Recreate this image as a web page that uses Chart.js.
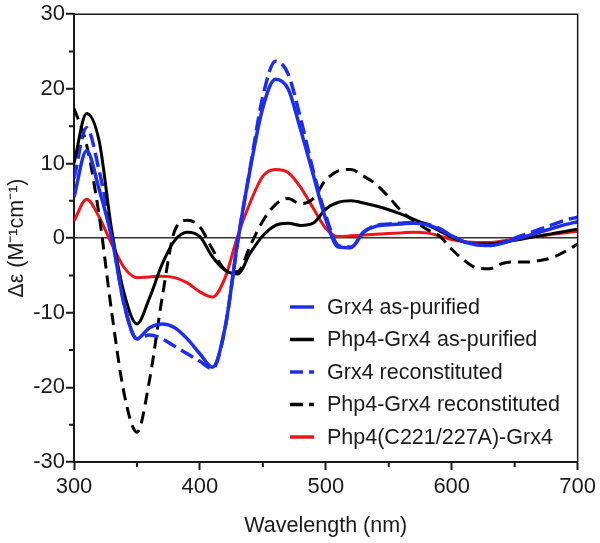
<!DOCTYPE html>
<html lang="en">
<head>
    <meta charset="UTF-8">
    <title>CD spectra</title>
    <style>
        * {
            margin: 0;
            padding: 0;
            box-sizing: border-box;
        }

        body {
            background-color: #fff;
            width: 600px;
            height: 543px;
            overflow: hidden;
        }

        #chart-box {
            width: 600px;
            height: 543px;
        }
    </style>
    <script src="https://cdn.jsdelivr.net/npm/chart.js"></script>
</head>
<body>
    <div id="chart-box">
        <canvas id="cdChart" width="600" height="543"></canvas>
    </div>

    <script>
        // Wavelength grid (nm)
        const wavelengths = [300, 310, 320, 330, 340, 350, 360, 370, 380, 390,
                             400, 410, 420, 430, 440, 450, 460, 470, 480, 490,
                             500, 510, 520, 530, 540, 550, 560, 570, 580, 590,
                             600, 610, 620, 630, 640, 650, 660, 670, 680, 690, 700];

        // Δε values
        const grx4AsPurified = [5.5, 11.7, 6.5, 0, -9, -13.5, -12, -11.5, -12, -13.5,
                                -15.5, -17.3, -12, -0.5, 9.3, 17.5, 21.3, 20, 14.5, 8.5,
                                2.5, -1.2, -1.3, 0.8, 1.6, 1.8, 1.9, 2, 1.8, 1.2,
                                0.3, -0.5, -0.9, -1, -0.7, -0.2, 0.3, 0.8, 1.3, 1.8, 2.2];

        const php4AsPurified = [10, 16.7, 13, 1, -7.5, -11.5, -8, -3.5, -0.3, 0.8,
                                0.2, -2.5, -4.3, -4.8, -2, 0.3, 1.7, 2, 1.7, 2,
                                3.9, 4.8, 5, 4.7, 4.3, 3.8, 3.2, 2.5, 1.8, 1,
                                0.1, -0.5, -0.8, -0.8, -0.6, -0.3, 0, 0.3, 0.6, 0.9, 1.2];

        const grx4Reconstituted = [8, 14.8, 9, 0.5, -9, -13.5, -13, -13.5, -14.5, -15.5,
                                   -16.5, -17.5, -12, -0.5, 9.5, 19, 23.7, 22, 16, 9,
                                   3, -1, -1.2, 0.8, 1.7, 1.9, 2, 2.1, 1.9, 1.3,
                                   0.3, -0.5, -0.9, -1, -0.6, 0, 0.6, 1.2, 1.8, 2.4, 2.8];

        const php4Reconstituted = [17.4, 12.5, 3, -10, -21, -26, -19, -8, 1, 2.4,
                                   1.5, -1.5, -4.2, -4.5, -1, 2.3, 4.5, 5.3, 4.6, 5.3,
                                   7.8, 9, 9.2, 8.3, 7.2, 5.5, 3.6, 2.3, 1.2, 0.3,
                                   -1.5, -3, -4, -4.1, -3.4, -3.2, -3.2, -3, -2.6, -1.8, -0.8];

        const php4Mutant = [2.3, 5.2, 2.8, -0.8, -4, -5.3, -5.2, -5.1, -5.3, -6,
                            -7.2, -7.9, -5.3, 0.3, 4.8, 8.3, 9.2, 8.8, 6.8, 4,
                            1.3, 0.2, 0.3, 0.4, 0.5, 0.6, 0.7, 0.8, 0.7, 0.3,
                            -0.2, -0.5, -0.6, -0.6, -0.4, -0.1, 0.1, 0.3, 0.5, 0.7, 0.9];

        const seriesLabels = ['Grx4 as-purified', 'Php4-Grx4 as-purified', 'Grx4 reconstituted',
                              'Php4-Grx4 reconstituted', 'Php4(C221/227A)-Grx4'];

        const xTicks = [300, 400, 500, 600, 700];
        const yTicks = [-30, -20, -10, 0, 10, 20, 30];

        const FONT = '"Liberation Sans", Arial, sans-serif';
        const INK = '#1a1a1a';

        function toPoints(values) {
            return values.map((v, i) => ({ x: wavelengths[i], y: v }));
        }

        // Caixa, ticks menores e legenda dentro da área do gráfico
        const framePlugin = {
            id: 'frame',
            afterDraw(chart) {
                const ctx = chart.ctx;
                const area = chart.chartArea;
                const xs = chart.scales.x;
                const ys = chart.scales.y;
                ctx.save();

                ctx.strokeStyle = INK;
                ctx.lineWidth = 1.5;
                ctx.beginPath();
                ctx.moveTo(area.left, area.top);
                ctx.lineTo(area.right, area.top);
                ctx.lineTo(area.right, area.bottom);
                ctx.stroke();

                // minor ticks
                ctx.lineWidth = 2;
                ctx.beginPath();
                for (let v = 350; v < 700; v += 100) {
                    const px = xs.getPixelForValue(v);
                    ctx.moveTo(px, area.bottom);
                    ctx.lineTo(px, area.bottom + 5);
                }
                for (let v = -25; v < 30; v += 10) {
                    const py = ys.getPixelForValue(v);
                    ctx.moveTo(area.left, py);
                    ctx.lineTo(area.left - 5, py);
                }
                ctx.stroke();

                // legend
                const lx = 290, tx = 327;
                let ly = 307;
                ctx.font = '21.5px ' + FONT;
                ctx.textBaseline = 'middle';
                ctx.fillStyle = INK;
                chart.data.datasets.forEach(ds => {
                    ctx.strokeStyle = ds.borderColor;
                    ctx.lineWidth = 3.5;
                    ctx.setLineDash(ds.borderDash && ds.borderDash.length ? [13, 6] : []);
                    ctx.beginPath();
                    ctx.moveTo(lx, ly);
                    ctx.lineTo(lx + 24, ly);
                    ctx.stroke();
                    ctx.setLineDash([]);
                    ctx.fillText(ds.label, tx, ly + 1);
                    ly += 32.5;
                });

                ctx.restore();
            }
        };

        const ctx = document.getElementById('cdChart').getContext('2d');
        new Chart(ctx, {
            type: 'line',
            data: {
                datasets: [
                    {
                        label: seriesLabels[0],
                        data: toPoints(grx4AsPurified),
                        borderColor: '#1f2fe8',
                        borderWidth: 3.5,
                        borderDash: []
                    },
                    {
                        label: seriesLabels[1],
                        data: toPoints(php4AsPurified),
                        borderColor: '#000000',
                        borderWidth: 3,
                        borderDash: []
                    },
                    {
                        label: seriesLabels[2],
                        data: toPoints(grx4Reconstituted),
                        borderColor: '#1f2fe8',
                        borderWidth: 3.5,
                        borderDash: [14, 6]
                    },
                    {
                        label: seriesLabels[3],
                        data: toPoints(php4Reconstituted),
                        borderColor: '#000000',
                        borderWidth: 3,
                        borderDash: [12, 7]
                    },
                    {
                        label: seriesLabels[4],
                        data: toPoints(php4Mutant),
                        borderColor: '#ee1418',
                        borderWidth: 3,
                        borderDash: []
                    }
                ]
            },
            options: {
                responsive: false,
                animation: false,
                devicePixelRatio: 1,
                layout: {
                    padding: { top: 11, right: 22, left: 0, bottom: 0 }
                },
                elements: {
                    point: { radius: 0 },
                    line: { cubicInterpolationMode: 'monotone', fill: false }
                },
                plugins: {
                    legend: { display: false },
                    tooltip: { enabled: false }
                },
                scales: {
                    x: {
                        type: 'linear',
                        min: 300,
                        max: 700,
                        afterBuildTicks: s => { s.ticks = xTicks.map(v => ({ value: v })); },
                        afterFit: s => { s.height = 81; },
                        ticks: {
                            color: INK,
                            font: { family: FONT, size: 22 },
                            padding: 4,
                            maxRotation: 0
                        },
                        grid: {
                            drawOnChartArea: false,
                            tickLength: 8,
                            tickColor: INK,
                            tickWidth: 2
                        },
                        border: { color: INK, width: 2 },
                        title: {
                            display: true,
                            text: 'Wavelength (nm)',
                            color: INK,
                            font: { family: FONT, size: 21.5 },
                            padding: { top: 5 }
                        }
                    },
                    y: {
                        min: -30,
                        max: 30,
                        afterBuildTicks: s => { s.ticks = yTicks.map(v => ({ value: v })); },
                        afterFit: s => { s.width = 74; },
                        ticks: {
                            color: INK,
                            font: { family: FONT, size: 22 },
                            padding: 1
                        },
                        grid: {
                            color: c => (c.tick && c.tick.value === 0) ? '#333' : 'rgba(0,0,0,0)',
                            lineWidth: 1.5,
                            tickLength: 8,
                            tickColor: INK,
                            tickWidth: 2
                        },
                        border: { color: INK, width: 2 },
                        title: {
                            display: true,
                            text: 'Δε (M⁻¹cm⁻¹)',
                            color: INK,
                            font: { family: FONT, size: 21.5 },
                            padding: { bottom: 0 }
                        }
                    }
                }
            },
            plugins: [framePlugin]
        });
    </script>
</body>
</html>
